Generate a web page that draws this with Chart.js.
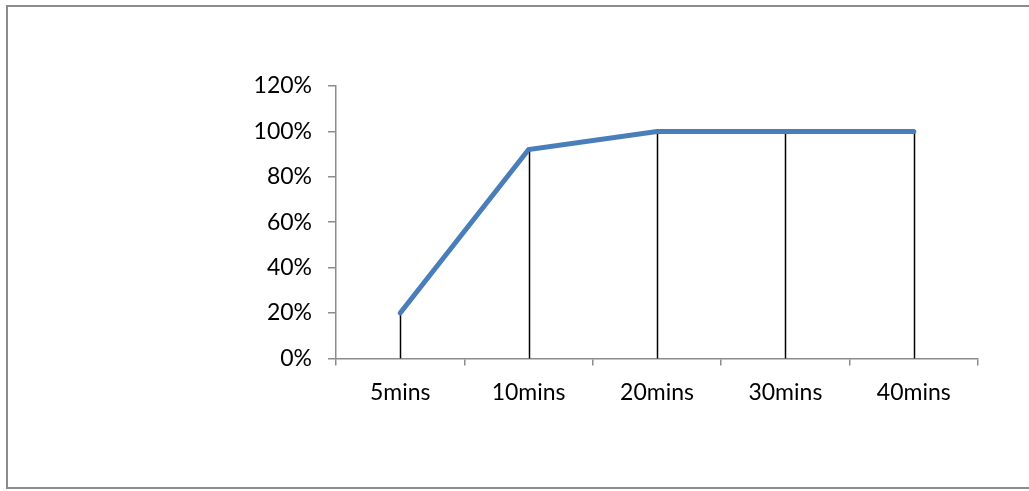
<!DOCTYPE html>
<html>
<head>
<meta charset="utf-8">
<script src="https://cdn.jsdelivr.net/npm/chart.js@4"></script>
<style>
  html, body { margin: 0; padding: 0; background: #fff; }
  #wrap { position: relative; width: 1029px; height: 491px; }
  #frame { position: absolute; left: 6px; top: 5px; width: 1030px; height: 484px; border: 2px solid #8c8c8c; box-sizing: border-box; }
  canvas { position: absolute; left: 0; top: 0; }
</style>
</head>
<body>
<div id="wrap">
  <div id="frame"></div>
  <canvas id="chart" width="1029" height="491"></canvas>
</div>
<script>
// podatki grafa
const categories = ['5mins', '10mins', '20mins', '30mins', '40mins'];
const values = [20, 92, 100, 100, 100];
const yTicks = [0, 20, 40, 60, 80, 100, 120];

// navpične črte od točke do osi x
const dropLines = {
    id: 'dropLines',
    beforeDatasetsDraw(chart) {
        const ctx = chart.ctx;
        const x = chart.scales.x, y = chart.scales.y;
        ctx.save();
        ctx.strokeStyle = '#000';
        ctx.lineWidth = 1.5;
        values.forEach((v, i) => {
            const px = Math.round(x.getPixelForValue(i)) + 0.5;
            ctx.beginPath();
            ctx.moveTo(px, y.getPixelForValue(v));
            ctx.lineTo(px, y.getPixelForValue(0));
            ctx.stroke();
        });
        ctx.restore();
    }
};

const font = { family: 'Lato, "Open Sans", sans-serif', size: 23 };

new Chart(document.getElementById('chart'), {
    type: 'line',
    data: {
        labels: categories,
        datasets: [{
            data: values,
            borderColor: '#4a7ebb',
            borderWidth: 5,
            pointRadius: 0,
            tension: 0,
            borderCapStyle: 'round'
        }]
    },
    options: {
        responsive: false,
        animation: false,
        layout: { padding: { left: 0, right: 51, top: 86, bottom: 72 } },
        scales: {
            y: {
                min: 0, max: 120,
                afterBuildTicks: (s) => { s.ticks = yTicks.map(v => ({ value: v })); },
                afterFit: (s) => { s.width = 336; },
                border: { color: '#8c8c8c', width: 1.5 },
                grid: { drawOnChartArea: false, color: '#8c8c8c', lineWidth: 1.5, tickLength: 8 },
                ticks: { color: '#000', font: font, padding: 16, callback: v => v + '%' }
            },
            x: {
                offset: true,
                border: { color: '#8c8c8c', width: 1.5 },
                grid: { drawOnChartArea: false, offset: true, color: '#8c8c8c', lineWidth: 1.5, tickLength: 7 },
                ticks: { color: '#000', font: font, padding: 13, maxRotation: 0 }
            }
        },
        plugins: { legend: { display: false }, tooltip: { enabled: false } }
    },
    plugins: [dropLines]
});
</script>
</body>
</html>
